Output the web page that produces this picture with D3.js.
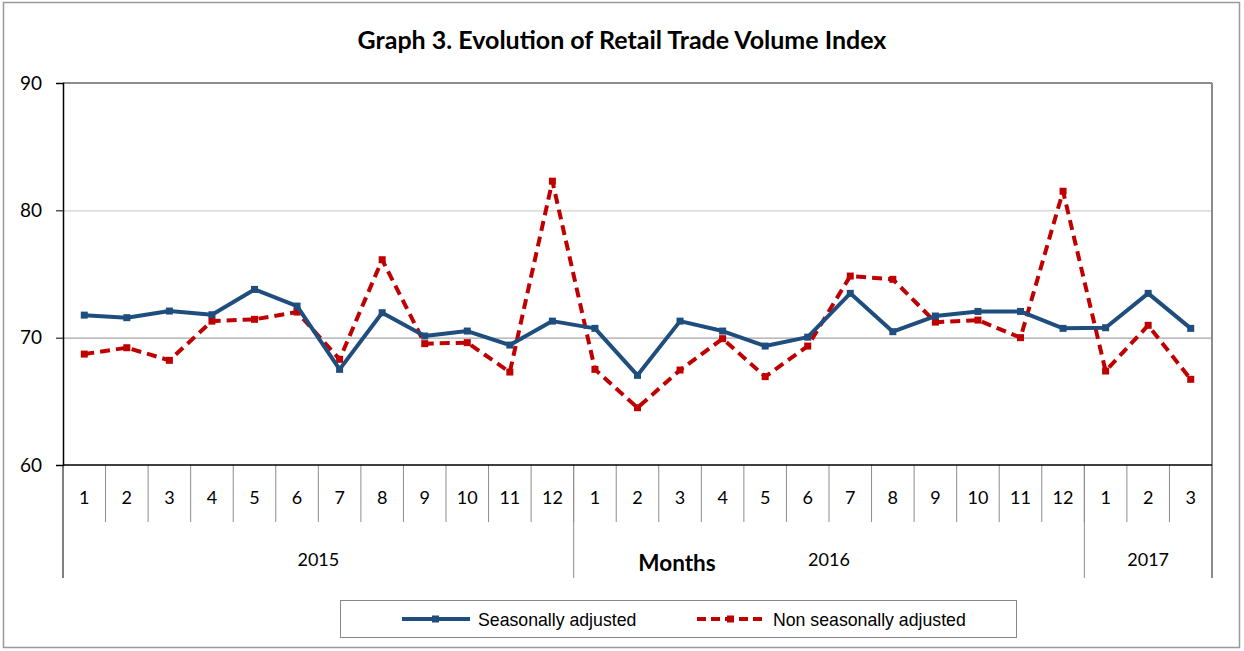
<!DOCTYPE html>
<html><head><meta charset="utf-8">
<script src="https://cdn.jsdelivr.net/npm/d3@7"></script>
<style>body{margin:0;background:#fff}svg{display:block}</style>
</head><body>
<svg id="c" width="1244" height="651"></svg>
<script>
const months = [1,2,3,4,5,6,7,8,9,10,11,12,1,2,3,4,5,6,7,8,9,10,11,12,1,2,3];
const years = [{label:"2015", n:12},{label:"2016", n:12},{label:"2017", n:3}];
const seasonallyAdjusted = [71.77,71.57,72.09,71.8,73.79,72.48,67.51,71.96,70.13,70.52,69.42,71.3,
  70.73,67.04,71.3,70.52,69.34,70.04,73.48,70.47,71.7,72.06,72.06,70.73,70.78,73.48,70.73];
const nonSeasonallyAdjusted = [68.71,69.21,68.22,71.3,71.44,72.01,68.3,76.12,69.53,69.61,67.3,82.29,
  67.51,64.5,67.46,69.92,66.94,69.34,74.84,74.58,71.22,71.38,70.0,81.5,67.38,70.97,66.73];
const yTicks = [60,70,80,90];

const svg = d3.select("#c");
const L=63, R=1212, T=83, B=465;
const calibri = "Lato, 'Open Sans', sans-serif";
const arial = "'Liberation Sans', Arial, sans-serif";

svg.append("rect").attr("x",3.5).attr("y",2.5).attr("width",1236).attr("height",645)
  .attr("fill","#fff").attr("stroke","#9a9a9a").attr("stroke-width",1.5);

svg.append("text").attr("x",622).attr("y",49).attr("text-anchor","middle")
  .attr("font-family",calibri).attr("font-weight","bold").attr("font-size",25)
  .text("Graph 3. Evolution of Retail Trade Volume Index");

const idx = d3.range(months.length);
const x = d3.scaleBand().domain(idx).range([L,R]).paddingInner(0).paddingOuter(0);
const y = d3.scaleLinear().domain([60,90]).range([B,T]);

// gridlines
svg.append("g").selectAll("line").data(yTicks.filter(t=>t>60 && t<90)).join("line")
  .attr("x1",L).attr("x2",R).attr("y1",d=>y(d)+0.5).attr("y2",d=>y(d)+0.5)
  .attr("stroke",d=>d===70?"#a6a6a6":"#d0d0d0").attr("stroke-width",1.2);
// top & right frame
svg.append("line").attr("x1",L).attr("x2",R).attr("y1",T).attr("y2",T).attr("stroke","#8c8c8c").attr("stroke-width",2);
svg.append("line").attr("x1",R).attr("x2",R).attr("y1",T).attr("y2",578).attr("stroke","#8c8c8c").attr("stroke-width",2);

// y axis
const yAxis = d3.axisLeft(y).tickValues(yTicks).tickSize(7).tickPadding(14);
const gy = svg.append("g").attr("transform",`translate(${L},0)`).call(yAxis);
gy.select(".domain").attr("stroke","#000").attr("stroke-width",1.5);
gy.selectAll(".tick line").attr("stroke","#000");
gy.selectAll(".tick text").attr("font-family",calibri).attr("font-size",19).attr("fill","#000");

// x axis: months
const xAxis = d3.axisBottom(x).tickFormat(i=>months[i]).tickSize(0).tickPadding(26);
const gx = svg.append("g").attr("transform",`translate(0,${B})`).call(xAxis);
gx.select(".domain").remove();
gx.selectAll(".tick text").attr("font-family",calibri).attr("font-size",18).attr("fill","#000");
// month separators
svg.append("g").selectAll("line").data(idx.slice(1)).join("line")
  .attr("x1",i=>x(i)).attr("x2",i=>x(i)).attr("y1",B).attr("y2",522)
  .attr("stroke","#8c8c8c").attr("stroke-width",1);
// year separators
let cum=0; const yb=[0];
years.forEach(yr=>{cum+=yr.n; yb.push(cum);});
svg.append("g").selectAll("line").data(yb.slice(0,-1)).join("line")
  .attr("x1",i=>x(i)).attr("x2",i=>x(i)).attr("y1",B).attr("y2",578)
  .attr("stroke",i=>i===0?"#000":"#8c8c8c").attr("stroke-width",1);
svg.append("g").selectAll("text").data(years).join("text")
  .attr("x",(d,k)=>(x(yb[k]) + (yb[k+1]<months.length? x(yb[k+1]) : R))/2)
  .attr("y",566).attr("text-anchor","middle")
  .attr("font-family",calibri).attr("font-size",18).text(d=>d.label);
svg.append("line").attr("x1",L).attr("x2",R).attr("y1",B).attr("y2",B).attr("stroke","#000").attr("stroke-width",1.5);
svg.append("text").attr("x",677).attr("y",571).attr("text-anchor","middle")
  .attr("font-family",calibri).attr("font-weight","bold").attr("font-size",22.5).text("Months");

// lines
const cx = i=>x(i)+x.bandwidth()/2;
const line = d3.line().x((d,i)=>cx(i)).y(d=>y(d));
const series = [
  {data:nonSeasonallyAdjusted, color:"#c00000", dash:"10,6", name:"Non seasonally adjusted"},
  {data:seasonallyAdjusted, color:"#1f4e7e", dash:null, name:"Seasonally adjusted"}
];
series.forEach(s=>{
  svg.append("path").datum(s.data).attr("d",line).attr("fill","none")
    .attr("stroke",s.color).attr("stroke-width",4).attr("stroke-dasharray",s.dash)
    .attr("stroke-linejoin","round");
  svg.append("g").selectAll("rect").data(s.data).join("rect")
    .attr("x",(d,i)=>cx(i)-3.5).attr("y",d=>y(d)-3.5).attr("width",7).attr("height",7)
    .attr("fill",s.color);
});

// legend
svg.append("rect").attr("x",340.5).attr("y",600.5).attr("width",676).attr("height",37)
  .attr("fill","#fff").attr("stroke","#888").attr("stroke-width",1);
const leg = [
  {s:series[1], x0:402},
  {s:series[0], x0:697}
];
leg.forEach(l=>{
  svg.append("line").attr("x1",l.x0).attr("x2",l.x0+68).attr("y1",619).attr("y2",619)
    .attr("stroke",l.s.color).attr("stroke-width",4).attr("stroke-dasharray",l.s.dash?"9,5":null);
  svg.append("rect").attr("x",l.x0+30).attr("y",615.5).attr("width",7).attr("height",7).attr("fill",l.s.color);
  svg.append("text").attr("x",l.x0+76).attr("y",625.5).attr("font-family",arial).attr("font-size",17.7)
    .text(l.s.name);
});
</script>
</body></html>
